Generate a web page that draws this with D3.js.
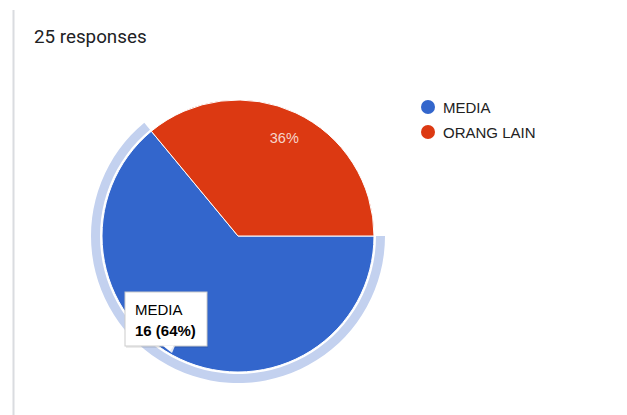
<!DOCTYPE html>
<html>
<head>
<meta charset="utf-8">
<script src="https://cdn.jsdelivr.net/npm/d3@7"></script>
<style>
  html, body { margin: 0; padding: 0; background: #fff; }
  svg { display: block; }
</style>
</head>
<body>
<svg id="chart" width="627" height="415"></svg>
<script>
// Response counts per answer
const categories = ["MEDIA", "ORANG LAIN"];
const counts = [16, 9];
const colors = ["#3366cc", "#dc3912"];
const totalLabel = "25 responses";

const svg = d3.select("#chart");
const W = 627, H = 415;

// Card edge on the left
svg.append("line")
  .attr("x1", 13.5).attr("x2", 13.5)
  .attr("y1", 10).attr("y2", H)
  .attr("stroke", "#dadce0").attr("stroke-width", 2);

svg.append("text")
  .attr("x", 34).attr("y", 43)
  .attr("font-family", "Roboto, Arial, sans-serif")
  .attr("font-size", 18.8)
  .attr("fill", "#202124")
  .text(totalLabel);

const cx = 238, cy = 236, R = 136;
const total = d3.sum(counts);
const data = categories.map((c, i) => ({ name: c, value: counts[i], color: colors[i] }));

const pie = d3.pie()
  .sort(null)
  .value(d => d.value)
  .startAngle(Math.PI / 2)
  .endAngle(Math.PI / 2 + 2 * Math.PI);
const arcs = pie(data);

const g = svg.append("g").attr("transform", `translate(${cx},${cy})`);

// Highlight ring around the hovered slice (MEDIA)
const ring = d3.arc().innerRadius(R + 2).outerRadius(R + 11);
g.append("path")
  .attr("d", ring(arcs[0]))
  .attr("fill", "#c3d1ef");

const arc = d3.arc().innerRadius(0).outerRadius(R);
g.selectAll("path.slice")
  .data(arcs)
  .join("path")
  .attr("class", "slice")
  .attr("d", arc)
  .attr("fill", d => d.data.color)
  .attr("stroke", "#ffffff")
  .attr("stroke-width", 1);

// Percentage label inside the smaller slice
const labelArc = d3.arc().innerRadius(R * 0.8).outerRadius(R * 0.8);
const fmtPct = v => Math.round(v / total * 100) + "%";
const c1 = labelArc.centroid(arcs[1]);
g.append("text")
  .attr("x", c1[0]).attr("y", c1[1] + 5)
  .attr("text-anchor", "middle")
  .attr("font-family", "Arial, 'Liberation Sans', sans-serif")
  .attr("font-size", 14.5)
  .attr("fill", "#f6d5cc")
  .text(fmtPct(arcs[1].data.value));

// Legend
const legend = svg.append("g").attr("transform", "translate(428,107)");
const items = legend.selectAll("g").data(data).join("g")
  .attr("transform", (d, i) => `translate(0,${i * 25})`);
items.append("circle").attr("r", 7).attr("fill", d => d.color);
items.append("text")
  .attr("x", 15).attr("y", 6)
  .attr("font-family", "Arial, 'Liberation Sans', sans-serif")
  .attr("font-size", 15)
  .attr("fill", "#222")
  .text(d => d.name);

// Tooltip for the MEDIA slice
const tip = svg.append("g").attr("transform", "translate(125,292)");
const tw = 82, th = 54;
// soft shadow
tip.append("rect")
  .attr("x", 1).attr("y", 2).attr("width", tw).attr("height", th)
  .attr("fill", "#000").attr("opacity", 0.08);
tip.append("path")
  .attr("d", `M38,${th} L50,${th} L47,${th + 7} Z`)
  .attr("fill", "#e4e8f2");
tip.append("rect")
  .attr("width", tw).attr("height", th)
  .attr("fill", "#fff")
  .attr("stroke", "#cccccc").attr("stroke-width", 1);
tip.append("path")
  .attr("d", `M38,${th - 0.5} L49,${th - 0.5} L45,${th + 5} Z`)
  .attr("fill", "#fff");
tip.append("text")
  .attr("x", 10).attr("y", 23)
  .attr("font-family", "Arial, 'Liberation Sans', sans-serif")
  .attr("font-size", 15).attr("fill", "#000")
  .text(data[0].name);
tip.append("text")
  .attr("x", 10).attr("y", 44)
  .attr("font-family", "Arial, 'Liberation Sans', sans-serif")
  .attr("font-size", 15).attr("font-weight", "bold").attr("fill", "#000")
  .text(`${data[0].value} (${fmtPct(data[0].value)})`);
</script>
</body>
</html>
